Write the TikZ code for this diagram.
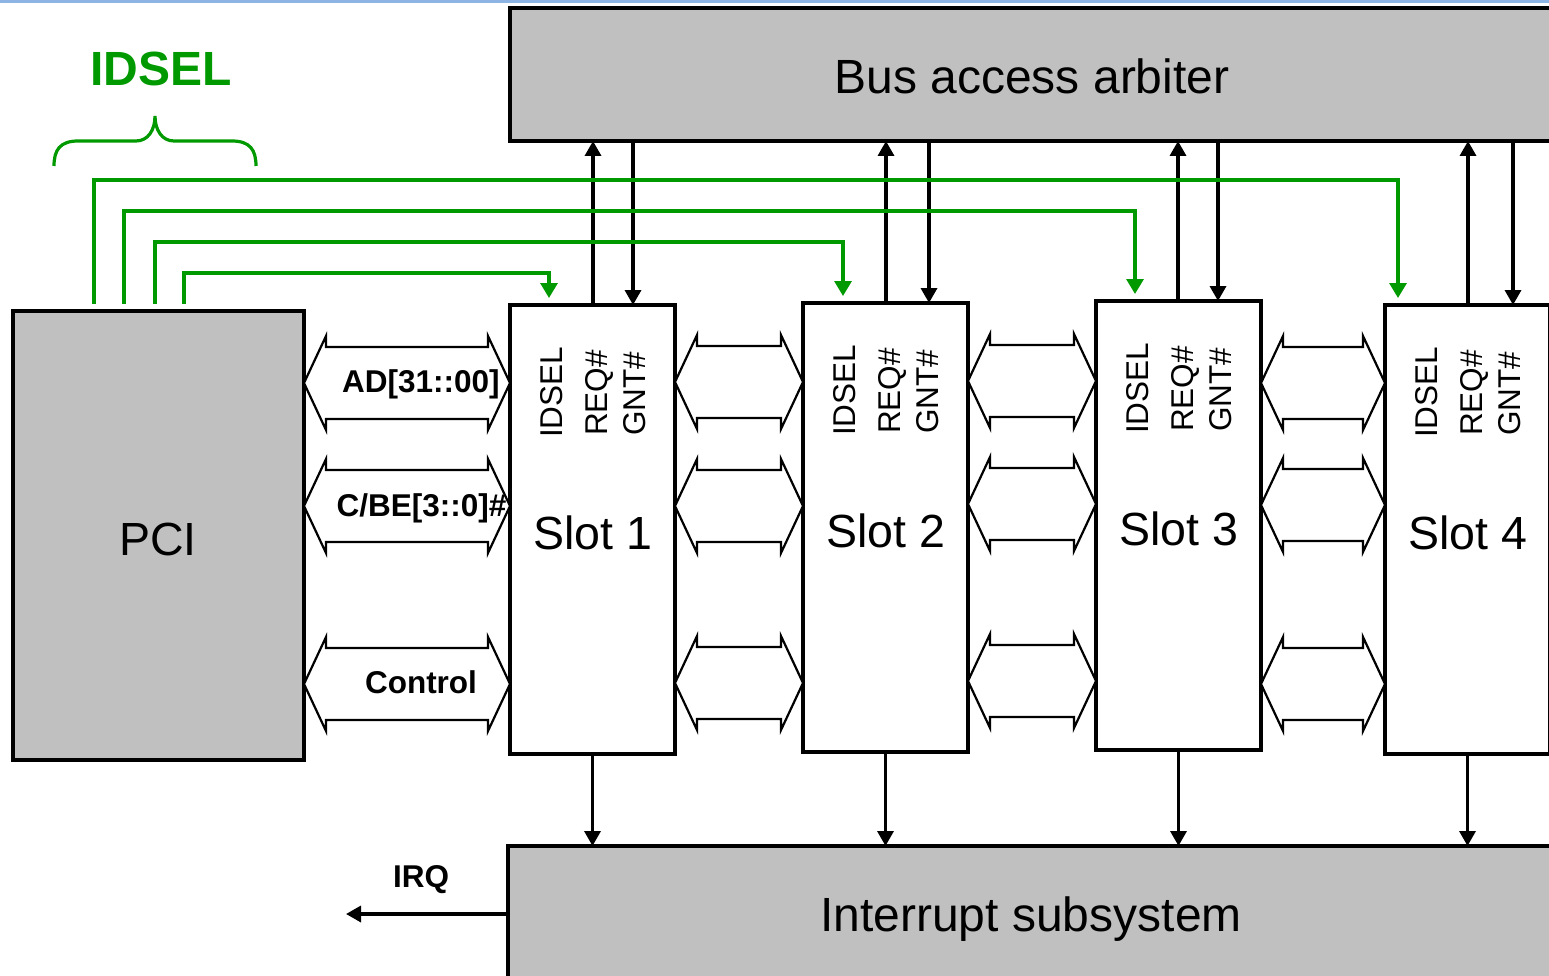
\documentclass[tikz,border=0pt]{standalone}
\usepackage{fontspec}
\setmainfont{Liberation Sans}
\usetikzlibrary{arrows.meta,calc}
\definecolor{boxgray}{RGB}{192,192,192}
\definecolor{idgreen}{RGB}{0,153,0}
\definecolor{topblue}{RGB}{141,180,226}
\newcommand{\busarrow}[3]{%
  \coordinate (ba-y) at (0,#3);
  \coordinate (ba-l) at (#1.east |- ba-y);
  \coordinate (ba-r) at (#2.west |- ba-y);
  \draw[busline] (ba-l) -- ++(22,-47) -- ++(0,11) -- ($(ba-r)+(-22,-36)$) -- ++(0,-11)
    -- (ba-r) -- ++(-22,47) -- ++(0,-11) -- ($(ba-l)+(22,36)$) -- ++(0,11) -- cycle;
}
\begin{document}
\begin{tikzpicture}[x=1pt,y=-1pt,
  box/.style={draw=black,line width=3.4pt,inner sep=0pt,outer sep=0pt,anchor=north west},
  graybox/.style={box,fill=boxgray},
  slotbox/.style={box,fill=white,minimum width=165,minimum height=449},
  bigtext/.style={font=\fontsize{48}{50}\selectfont,inner sep=0pt,anchor=base},
  slottext/.style={font=\fontsize{46.5}{50}\selectfont,inner sep=0pt,anchor=base},
  pintext/.style={font=\fontsize{31.5}{34}\selectfont,inner sep=0pt,rotate=90,anchor=base west},
  bustext/.style={font=\bfseries\fontsize{31.5}{34}\selectfont,inner sep=0pt,anchor=base},
  busline/.style={draw=black,line width=2.2pt,fill=white,line join=miter},
  sig/.style={draw=black,line width=3.4pt,-{Triangle[length=15pt,width=16pt]}},
  idsel/.style={draw=idgreen,line width=3.2pt,-{Triangle[length=15pt,width=17pt]},shorten >=7pt},
  brace/.style={draw=idgreen,line width=3.2pt}
]
\useasboundingbox (0,0) rectangle (1549,976);
\clip (0,0) rectangle (1549,976);
\fill[topblue] (0,0) rectangle (1549,3);

% main blocks
\node[graybox,minimum width=1044,minimum height=133] (arb) at (510,8) {};
\node[graybox,minimum width=1044,minimum height=136] (int) at (508,846) {};
\node[graybox,minimum width=291,minimum height=449] (pci) at (13,311) {};
\node[bigtext] (arb-label) at (1032,94) {Bus access arbiter};
\node[bigtext] (int-label) at (1031,931) {Interrupt subsystem};
\node[slottext] (pci-label) at (158,555) {PCI};

% slots
\node[slotbox] (s1) at (510,305) {};
\node[slotbox] (s2) at (803,303) {};
\node[slotbox] (s3) at (1096,301) {};
\node[slotbox] (s4) at (1385,305) {};

\foreach \n/\rq/\gn in {1/83/123, 2/83/126, 3/82/122, 4/83/128}{
  \node[slottext] (s\n-label) at ($(s\n.north)+(0,244)$) {Slot \n};
  \node[pintext] (s\n-idsel) at ($(s\n.north west)+(52,133)$) {IDSEL};
  \node[pintext] (s\n-req) at ($(s\n.north west)+(97,131)$) {REQ\#};
  \node[pintext] (s\n-gnt) at ($(s\n.north west)+(135,131)$) {GNT\#};
  % request / grant to the arbiter
  \coordinate (s\n-rq) at ($(s\n.north west)+(\rq,0)$);
  \coordinate (s\n-gn) at ($(s\n.north west)+(\gn,0)$);
  \draw[sig] (s\n-rq) -- (s\n-rq |- arb.south);
  \draw[sig] (s\n-gn |- arb.south) -- (s\n-gn);
  % interrupt
  \draw[sig] (s\n.south) -- (s\n.south |- int.north);
}

% buses PCI -> slot 1
\busarrow{pci}{s1}{383}
\busarrow{pci}{s1}{506}
\busarrow{pci}{s1}{684}
\node[bustext] (ad-label) at (421,392) {AD[31::00]};
\node[bustext] (cbe-label) at (421.5,516) {C/BE[3::0]\#};
\node[bustext] (ctl-label) at (421,693) {Control};

% buses between slots
\busarrow{s1}{s2}{382}
\busarrow{s1}{s2}{506}
\busarrow{s1}{s2}{683}
\busarrow{s2}{s3}{381}
\busarrow{s2}{s3}{504}
\busarrow{s2}{s3}{681}
\busarrow{s3}{s4}{383}
\busarrow{s3}{s4}{505}
\busarrow{s3}{s4}{684}

% IRQ
\coordinate (irq-tip) at (346,914);
\draw[sig] (int.west) -- (irq-tip);
\node[bustext] (irq-label) at (421,887) {IRQ};

% IDSEL lines
\coordinate (p1) at (94,304);
\coordinate (p2) at (124,304);
\coordinate (p3) at (155,304);
\coordinate (p4) at (184,304);
\coordinate (g4) at ($(s4.north west)+(13,0)$);
\coordinate (g3) at ($(s3.north west)+(39,0)$);
\coordinate (g2) at ($(s2.north west)+(40,0)$);
\coordinate (g1) at ($(s1.north west)+(39,0)$);
\draw[idsel] (p1) -- ++(0,-124) -| (g4);
\draw[idsel] (p2) -- ++(0,-93) -| (g3);
\draw[idsel] (p3) -- ++(0,-62) -| (g2);
\draw[idsel] (p4) -- ++(0,-31) -| (g1);

% brace and label
\draw[brace] (54,166) .. controls (54,150) and (60,141) .. (78,141) -- (136,141)
  .. controls (148,141) and (155,130) .. (155,116)
  .. controls (155,130) and (162,141) .. (174,141) -- (232,141)
  .. controls (250,141) and (256,150) .. (256,166);
\node[font=\bfseries\fontsize{48}{50}\selectfont,text=idgreen,inner sep=0pt,anchor=base] (idsel-label) at (161,86) {IDSEL};
\end{tikzpicture}
\end{document}
